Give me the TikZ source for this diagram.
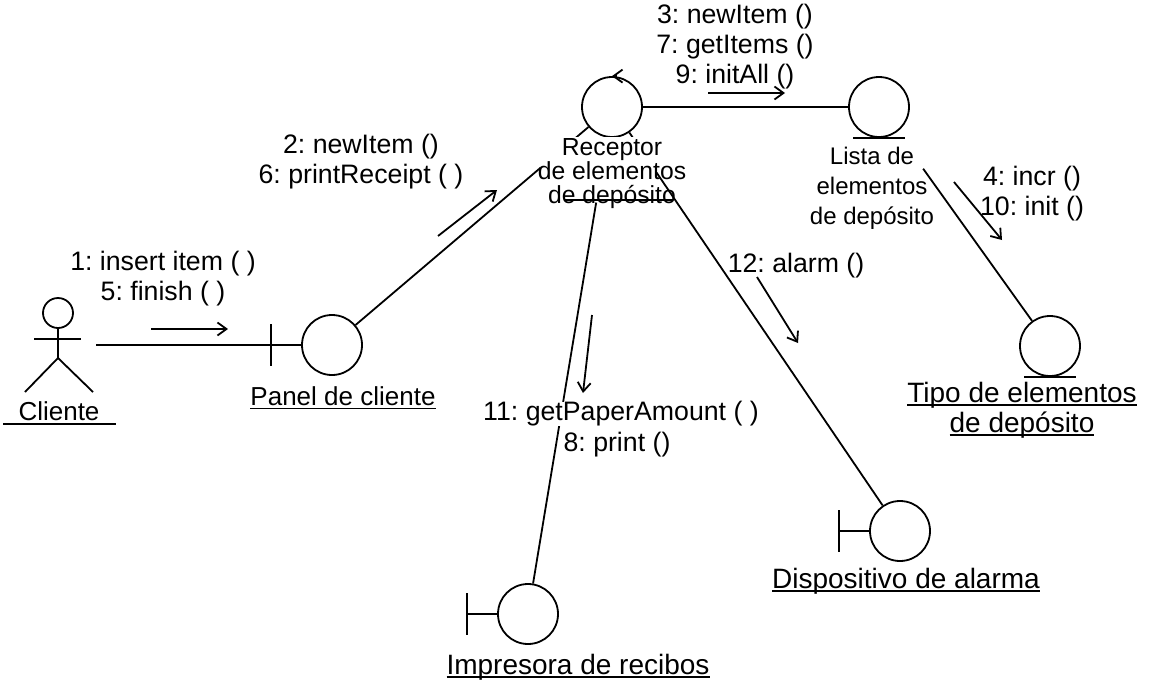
\documentclass[tikz,border=0pt]{standalone}
\usepackage{fontspec}
\setmainfont{Liberation Sans}
\usetikzlibrary{arrows.meta}
\newcommand{\objline}[1]{\setbox0=\hbox{#1}\rlap{\rule[-4pt]{\wd0}{1.8pt}}\box0}
\newcommand{\labelfont}[1]{\fontsize{#1}{30}\selectfont\frenchspacing}
\tikzset{
	objcircle/.style={circle, draw, line width=1.8pt, minimum size=60pt, inner sep=0pt},
	msgtext/.style={align=center, inner sep=0pt},
	msgarrow/.style={->, line width=1.8pt},
	link/.style={line width=1.8pt}
}
\begin{document}
\begin{tikzpicture}[>={Straight Barb[length=9pt, width=13pt, line width=1.8pt]}, x=1pt, y=-1pt,
		every node/.style={font=\labelfont{26.7}}]
	\useasboundingbox (0,0) rectangle (1149,686);
	% objects
	\node[objcircle] (receptor) at (612,107) {};
	\node[objcircle] (lista) at (879,107) {};
	\node[objcircle] (tipo) at (1050,346) {};
	\node[objcircle] (panel) at (332,345) {};
	\node[objcircle] (alarma) at (900,531) {};
	\node[objcircle] (impresora) at (528,614) {};
	% actor
	\node[circle, draw, line width=1.8pt, minimum size=30pt, inner sep=0pt] (clientehead) at (58,313) {};
	\coordinate (clientehip) at (58,358);
	\coordinate (clientefree) at (96,345);
	\draw[link] (clientehead) -- (clientehip);
	\draw[link] (34,339) -- (81,339);
	\draw[link] (25,392) -- (clientehip) -- (93,392);
	% boundary and entity marks
	\foreach \obj in {panel, alarma, impresora}
		\draw[link] (\obj.west) -- ++(-30,0) ++(0,-21) -- ++(0,42);
	\foreach \obj in {lista, tipo}
		\draw[link] ([xshift=-26pt]\obj.south) -- ([xshift=26pt]\obj.south);
	% links
	\draw[link] (clientefree) -- (panel);
	\draw[link] (panel) -- (receptor);
	\draw[link] (receptor) -- (lista);
	\draw[link, shorten <=66pt] (receptor) -- (impresora);
	\draw[link] (receptor) -- (alarma);
	\draw[link, shorten <=45pt] (lista) -- (tipo);
	\fill[white] (540,137) rectangle (665,172);
	% control mark
	\draw[msgarrow] ([xshift=5pt]receptor.north) -- (receptor.north);
	% messages
	\coordinate (msgastart) at (151,329);
	\coordinate (msgaend) at (228,329);
	\coordinate (msgbstart) at (438,236);
	\coordinate (msgbend) at (497,190);
	\coordinate (msgcstart) at (708,93);
	\coordinate (msgcend) at (785,93);
	\coordinate (msgdstart) at (954,182);
	\coordinate (msgdend) at (1002,240);
	\coordinate (msgestart) at (757,277);
	\coordinate (msgeend) at (798,343);
	\coordinate (msgfstart) at (592,315);
	\coordinate (msgfend) at (583,393);
	\foreach \m in {a,b,c,d,e,f}
		\draw[msgarrow] (msg\m start) -- (msg\m end);
	\node[msgtext] (msginsert) at (163,279) {1: insert item ( )\\5: finish ( )};
	\node[msgtext] (msgnew) at (361,162) {2: newItem ()\\6: printReceipt ( )};
	\node[msgtext] (msgitems) at (735,47) {3: newItem ()\\7: getItems ()\\9: initAll ()};
	\node[msgtext] (msgincr) at (1032,194) {4: incr ()\\10: init ()};
	\node[msgtext] (msgalarm) at (796,266) {12: alarm ()};
	\node[msgtext, fill=white] (msgpaper) at (621,414) {11: getPaperAmount ( )};
	\node[msgtext] (msgprint) at (617,445) {8: print ()};
	% labels
	\node[msgtext, font=\labelfont{26}] (clientelabel) at (59,411) {Cliente};
	\draw[link] (3,424) -- (116,424);
	\node[msgtext, font=\labelfont{26}] (panellabel) at (343,398) {\objline{Panel de cliente}};
	\node[msgtext, font=\fontsize{24.7}{24}\selectfont] (receptorlabel) at (612,174) {Receptor\\de elementos\\de depósito};
	\draw[link] (565,200) -- (673,200);
	\node[msgtext, font=\labelfont{24}] (listalabel) at (872,188) {Lista de\\elementos\\de depósito};
	\node[msgtext, font=\labelfont{28}] (tipolabel) at (1022,410) {\objline{Tipo de elementos}\\\objline{de depósito}};
	\node[msgtext, font=\labelfont{28}] (alarmalabel) at (906,581) {\objline{Dispositivo de alarma}};
	\node[msgtext, font=\labelfont{28}] (impresoralabel) at (578,667) {\objline{Impresora de recibos}};
\end{tikzpicture}
\end{document}
